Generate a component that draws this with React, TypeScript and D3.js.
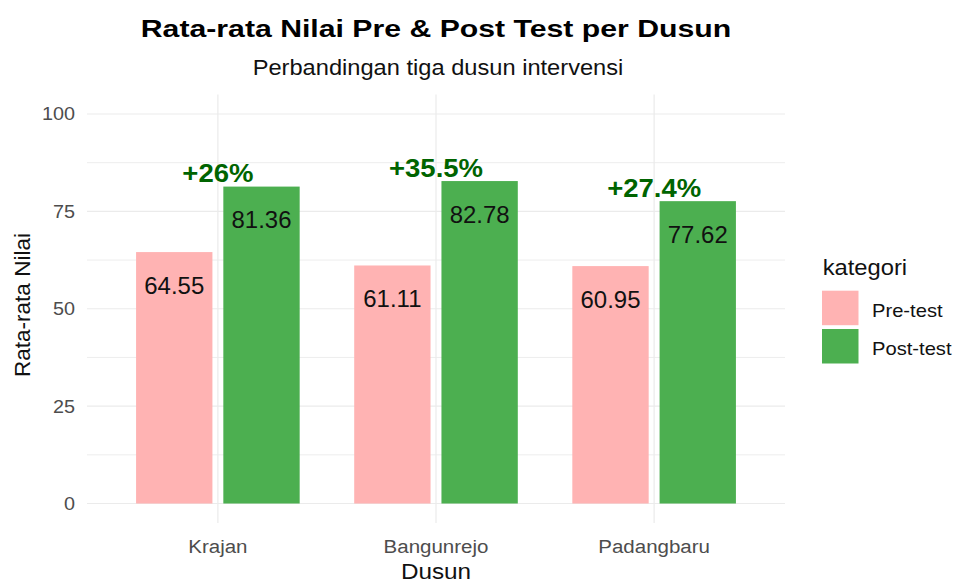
import React from 'react';
import * as d3 from 'd3';

const dusun = ['Krajan', 'Bangunrejo', 'Padangbaru'];
const preTest = [64.55, 61.11, 60.95];
const postTest = [81.36, 82.78, 77.62];
const kenaikan = ['+26%', '+35.5%', '+27.4%'];
const kategori = ['Pre-test', 'Post-test'];
const yTicks = [0, 25, 50, 75, 100];
const yMinor = [12.5, 37.5, 62.5, 87.5];

const FONT = '"Liberation Sans", Arial, sans-serif';
const warna = { 'Pre-test': '#FFB3B3', 'Post-test': '#4CAF50' };

const panel = { left: 87, right: 785, top: 94.5, bottom: 523 };

// text with a horizontal stretch, the reference glyphs render wider than Liberation
const T = ({ x, y, sx = 1, rotate = 0, children, ...rest }) => (
  <text transform={`translate(${x},${y}) rotate(${rotate}) scale(${sx},1)`} {...rest}>
    {children}
  </text>
);

const App = () => {
  // discrete x: positions 1..3 with 0.6 expansion on each side
  const x = d3.scaleLinear()
    .domain([0.4, dusun.length + 0.6])
    .range([panel.left, panel.right]);

  const y = d3.scaleLinear()
    .domain([-5, 105])
    .range([panel.bottom, panel.top]);

  const unit = x(2) - x(1);
  const dodge = d3.scaleBand()
    .domain(kategori)
    .range([-0.4 * unit, 0.4 * unit])
    .paddingInner(0.125)
    .paddingOuter(0.0625);

  const rows = dusun.map((d, i) => ({
    dusun: d,
    pos: i + 1,
    values: [
      { key: 'Pre-test', value: preTest[i] },
      { key: 'Post-test', value: postTest[i] },
    ],
    label: kenaikan[i],
  }));

  const cx = (panel.left + panel.right) / 2;

  return (
    <svg width={957} height={583} style={{ position: 'absolute', left: 0, top: 0 }} fontFamily={FONT}>
      <rect width={957} height={583} fill="#fff" />

      {/* grid */}
      {yMinor.map(t => (
        <line key={'mn' + t} x1={panel.left} x2={panel.right} y1={y(t)} y2={y(t)}
          stroke="#EBEBEB" strokeWidth={0.9} />
      ))}
      {yTicks.map(t => (
        <line key={'mj' + t} x1={panel.left} x2={panel.right} y1={y(t)} y2={y(t)}
          stroke="#EBEBEB" strokeWidth={1.2} />
      ))}
      {rows.map(r => (
        <line key={'v' + r.dusun} x1={x(r.pos)} x2={x(r.pos)} y1={panel.top} y2={panel.bottom}
          stroke="#EBEBEB" strokeWidth={1.2} />
      ))}

      {/* bars */}
      {rows.map(r => (
        <g key={r.dusun}>
          {r.values.map(v => (
            <g key={v.key}>
              <rect
                x={x(r.pos) + dodge(v.key)}
                y={y(v.value)}
                width={dodge.bandwidth()}
                height={y(0) - y(v.value)}
                fill={warna[v.key]}
              />
              <T x={x(r.pos) + dodge(v.key) + dodge.bandwidth() / 2} y={y(v.value) + 41.5} sx={1.02}
                textAnchor="middle" fontSize={23.5} fill="#111">
                {v.value.toFixed(2)}
              </T>
            </g>
          ))}
          <T x={x(r.pos)} y={y(r.values[1].value) - 4.5} sx={1.1}
            textAnchor="middle" fontSize={25} fontWeight="bold" fill="#006400">
            {r.label}
          </T>
        </g>
      ))}

      {/* y axis */}
      {yTicks.map(t => (
        <T key={'yt' + t} x={75} y={y(t) + 6.5} sx={1.1} textAnchor="end"
          fontSize={18} fill="#4D4D4D">{t}</T>
      ))}
      <T x={30} y={305} rotate={-90} textAnchor="middle" fontSize={22.5} fill="#111">Rata-rata Nilai</T>

      {/* x axis */}
      {rows.map(r => (
        <T key={'xt' + r.dusun} x={x(r.pos)} y={552.7} sx={1.08} textAnchor="middle"
          fontSize={19} fill="#4D4D4D">{r.dusun}</T>
      ))}
      <T x={cx} y={578.5} sx={1.13} textAnchor="middle" fontSize={21.5} fill="#111">Dusun</T>

      {/* title */}
      <T x={cx} y={37} sx={1.234} textAnchor="middle"
        fontSize={24.5} fontWeight="bold" fill="#000">Rata-rata Nilai Pre &amp; Post Test per Dusun</T>
      <T x={cx + 2} y={74.5} sx={1.1} textAnchor="middle"
        fontSize={21.5} fill="#111">Perbandingan tiga dusun intervensi</T>

      {/* legend */}
      <T x={822.7} y={275} sx={1.08} fontSize={22} fill="#111">kategori</T>
      {kategori.map((k, i) => (
        <g key={k} transform={`translate(822,${290.7 + i * 38.3})`}>
          <rect width={36.5} height={34.5} fill={warna[k]} />
          <T x={50} y={26} sx={1.12} fontSize={18} fill="#111">{k}</T>
        </g>
      ))}
    </svg>
  );
};

export default App;
